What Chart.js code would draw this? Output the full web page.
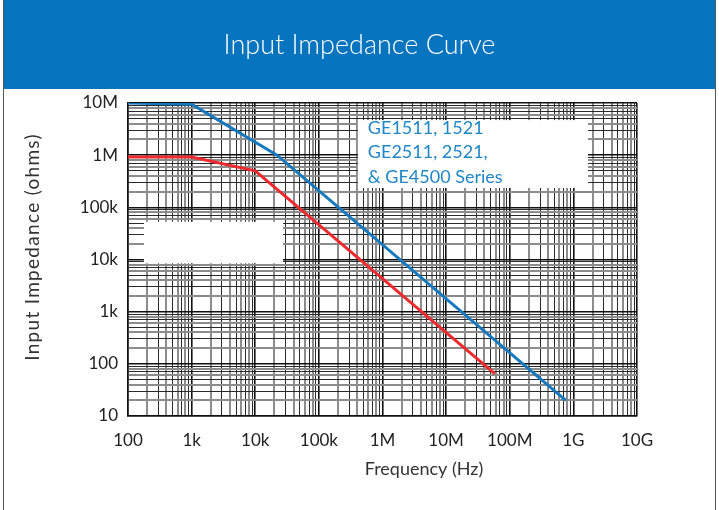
<!DOCTYPE html>
<html>
<head>
<meta charset="utf-8">
<title>Input Impedance Curve</title>
<script src="https://cdn.jsdelivr.net/npm/chart.js@4.4.1/dist/chart.umd.min.js"></script>
<style>
  html, body { margin: 0; padding: 0; background: #fff; }
  #wrap { width: 719px; height: 510px; }
</style>
</head>
<body>
<div id="wrap"><canvas id="canvas" width="719" height="510"></canvas></div>
<script>
// values: frequency in Hz, impedance in ohms
const blueFreq = [100, 1000, 22000, 7.6e8];
const blueOhms = [1.0e7, 9.5e6, 1.0e6, 20];
const redFreq = [100, 1000, 10000, 5.8e7];
const redOhms = [9.2e5, 9.2e5, 5.0e5, 65];

const xTickLabels = ['100', '1k', '10k', '100k', '1M', '10M', '100M', '1G', '10G'];
const yTickLabels = ['10', '100', '1k', '10k', '100k', '1M', '10M'];
const seriesNote = ['GE1511, 1521', 'GE2511, 2521,', '& GE4500 Series'];

const TITLE = 'Input Impedance Curve';
const X_TITLE = 'Frequency (Hz)';
const Y_TITLE = 'Input Impedance (ohms)';

const BLUE = '#1579c0';
const RED = '#ee2a2e';
const BAR = '#0674be';

// white patches on the graph paper, given in axis units
const noteBox = {x0: 4.1e5, x1: 1.7e9, y0: 4.7e6, y1: 2.35e5};
const blankBox = {x0: 178, x1: 2.73e4, y0: 5.3e4, y1: 8.45e3};

function l(id) {
    return document.getElementById(id);
}

function points(xs, ys) {
    return xs.map((x, i) => ({x: x, y: ys[i]}));
}

function sig(v) {
    return Math.round(v / Math.pow(10, Math.floor(Math.log10(v) + 1e-9)));
}

function isDecade(v) {
    const e = Math.log10(v);
    return Math.abs(e - Math.round(e)) < 1e-9;
}

// graph paper: a line at every 1..9 of each decade
function paperTicks(scale) {
    const lo = Math.round(Math.log10(scale.min));
    const hi = Math.round(Math.log10(scale.max));
    let ticks = [];
    for (let e = lo; e < hi; e++) {
        for (let m = 1; m < 10; m++) ticks.push({value: m * Math.pow(10, e)});
    }
    ticks.push({value: Math.pow(10, hi)});
    scale.ticks = ticks;
}

function gridColor(ctx) {
    if (!ctx.tick) return '#111';
    const s = sig(ctx.tick.value);
    if (s === 1) return '#111';
    return s % 2 === 0 ? '#8c8c8c' : '#2a2a2a';
}

function gridWidth(ctx) {
    if (!ctx.tick) return 1.5;
    const s = sig(ctx.tick.value);
    if (s === 1) return 1.6;
    return s % 2 === 0 ? 2 : 1;
}

const frame = {
    id: 'frame',
    beforeDraw(chart) {
        const ctx = chart.ctx;
        ctx.save();
        ctx.fillStyle = '#fff';
        ctx.fillRect(0, 0, chart.width, chart.height);
        ctx.fillStyle = BAR;
        ctx.fillRect(4, 0, chart.width - 8, 89);
        ctx.strokeStyle = '#555';
        ctx.lineWidth = 1;
        ctx.beginPath();
        ctx.moveTo(3.5, 0);
        ctx.lineTo(3.5, chart.height);
        ctx.moveTo(chart.width - 3.5, 0);
        ctx.lineTo(chart.width - 3.5, chart.height);
        ctx.stroke();

        // header text sits centred on the page, not on the plot
        ctx.fillStyle = '#fff';
        ctx.font = '300 27px Lato';
        ctx.textAlign = 'center';
        ctx.textBaseline = 'middle';
        ctx.fillText(TITLE, chart.width / 2, 45);

        // axis captions are placed off-centre in the original
        ctx.fillStyle = '#333';
        ctx.font = '18px Lato';
        ctx.fillText(X_TITLE, 424, 469);
        ctx.font = '19px Lato';
        ctx.letterSpacing = '1.3px';
        ctx.translate(33, 247);
        ctx.rotate(-Math.PI / 2);
        ctx.fillText(Y_TITLE, 0, 0);
        ctx.restore();
    },
    beforeDatasetsDraw(chart) {
        const ctx = chart.ctx;
        const xs = chart.scales.x, ys = chart.scales.y;
        ctx.save();
        ctx.fillStyle = '#fff';
        for (let b of [noteBox, blankBox]) {
            const x0 = xs.getPixelForValue(b.x0), x1 = xs.getPixelForValue(b.x1);
            const y0 = ys.getPixelForValue(b.y0), y1 = ys.getPixelForValue(b.y1);
            ctx.fillRect(x0, y0, x1 - x0, y1 - y0);
        }
        ctx.fillStyle = '#1f86c8';
        ctx.font = '18px Lato';
        ctx.textBaseline = 'middle';
        const tx = xs.getPixelForValue(noteBox.x0) + 10;
        const ty = ys.getPixelForValue(noteBox.y0) + 8;
        seriesNote.forEach((s, i) => ctx.fillText(s, tx, ty + i * 24.5));
        ctx.restore();
    }
};

Chart.defaults.font.family = 'Lato';

new Chart(l('canvas'), {
    type: 'line',
    data: {
        datasets: [
            {data: points(redFreq, redOhms), borderColor: RED, borderWidth: 3, pointRadius: 0, tension: 0},
            {data: points(blueFreq, blueOhms), borderColor: BLUE, borderWidth: 3, pointRadius: 0, tension: 0}
        ]
    },
    options: {
        responsive: false,
        animation: false,
        layout: {padding: {left: 0, right: 82, top: 103, bottom: 0}},
        plugins: {
            legend: {display: false},
            tooltip: {enabled: false},
            title: {display: false}
        },
        scales: {
            x: {
                type: 'logarithmic',
                min: 100,
                max: 1e10,
                afterBuildTicks: paperTicks,
                afterFit: s => { s.height = 94; },
                grid: {color: gridColor, lineWidth: gridWidth, drawTicks: false},
                border: {display: true, color: '#111', width: 1.5},
                ticks: {
                    autoSkip: false,
                    maxRotation: 0,
                    padding: 14,
                    color: '#222',
                    font: {size: 17},
                    callback: v => isDecade(v) ? xTickLabels[Math.round(Math.log10(v)) - 2] : ''
                }
            },
            y: {
                type: 'logarithmic',
                min: 10,
                max: 1e7,
                afterBuildTicks: paperTicks,
                afterFit: s => { s.width = 128; },
                grid: {color: gridColor, lineWidth: gridWidth, drawTicks: false},
                border: {display: true, color: '#111', width: 1.5},
                ticks: {
                    autoSkip: false,
                    padding: 10,
                    color: '#222',
                    font: {size: 17},
                    callback: v => isDecade(v) ? yTickLabels[Math.round(Math.log10(v)) - 1] : ''
                }
            }
        }
    },
    plugins: [frame]
});
</script>
</body>
</html>
